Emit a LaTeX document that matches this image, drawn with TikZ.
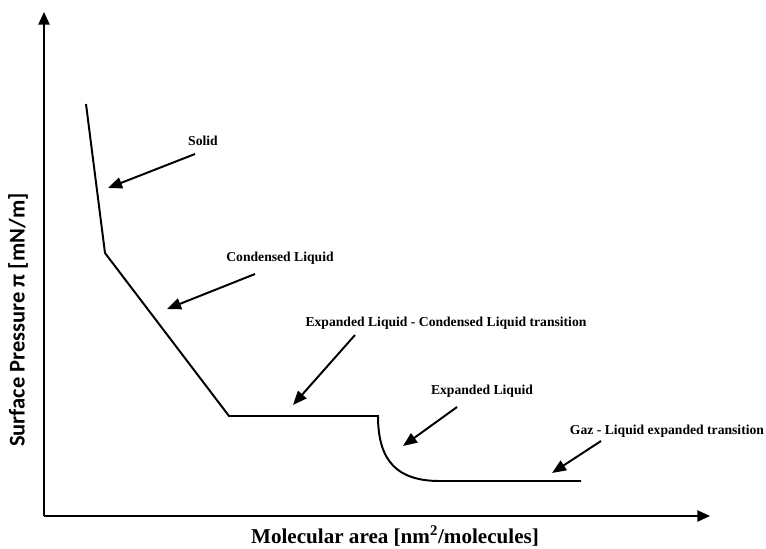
\documentclass[tikz,border=0pt]{standalone}
\usepackage{fontspec}
\setmainfont{Liberation Serif}
\newfontfamily\axisfont{Carlito}
\usetikzlibrary{arrows.meta}

\begin{document}
\begin{tikzpicture}[
    x=0.025cm, y=-0.025cm,
    axis/.style={line width=1.2pt, -{Triangle[length=9pt, width=8pt]}},
    curve/.style={line width=1.4pt, line join=miter},
    pointer/.style={line width=1.4pt, -{Triangle[length=10pt, width=8pt]}},
    phase/.style={font=\bfseries\fontsize{9.7}{11}\selectfont, inner sep=1pt}
]
    \useasboundingbox (0,0) rectangle (766,548);
    % axes
    \coordinate (o) at (44,516);
    \coordinate (ytop) at (44,12);
    \coordinate (xend) at (710,516);
    \draw[axis] (o) -- (ytop);
    \draw[axis] (o) -- (xend);
    \node[font=\axisfont\bfseries\fontsize{16}{18}\selectfont, rotate=90] (ylab) at (18,320) {Surface Pressure π [mN/m]};
    \node[font=\bfseries\fontsize{15}{17}\selectfont, inner sep=0pt] (xlab) at (395,536) {Molecular area [nm\textsuperscript{2}/molecules]};
    % isotherm
    \coordinate (p1) at (86,104);
    \coordinate (p2) at (105,253);
    \coordinate (p3) at (229,416);
    \coordinate (p4) at (378,416);
    \coordinate (p5) at (440,481);
    \coordinate (p6) at (581,481);
    \draw[curve] (p1) -- (p2) -- (p3) -- (p4)
        .. controls (378,462) and (398,481) .. (p5) -- (p6);
    % labels
    \node[phase] (solid) at (203,141) {Solid};
    \node[phase] (cond) at (280,258) {Condensed Liquid};
    \node[phase] (trans) at (446,323) {Expanded Liquid - Condensed Liquid transition};
    \node[phase] (expd) at (482,391) {Expanded Liquid};
    \node[phase] (gaz) at (667,431) {Gaz - Liquid expanded transition};
    % pointers
    \coordinate (s1) at (195,154);  \coordinate (s2) at (108,188);
    \coordinate (c1) at (255,274);  \coordinate (c2) at (167,309);
    \coordinate (t1) at (355,335);  \coordinate (t2) at (293,405);
    \coordinate (e1) at (457,407);  \coordinate (e2) at (403,446);
    \coordinate (g1) at (601,441);  \coordinate (g2) at (552,473);
    \draw[pointer] (s1) -- (s2);
    \draw[pointer] (c1) -- (c2);
    \draw[pointer] (t1) -- (t2);
    \draw[pointer] (e1) -- (e2);
    \draw[pointer] (g1) -- (g2);
\end{tikzpicture}
\end{document}
